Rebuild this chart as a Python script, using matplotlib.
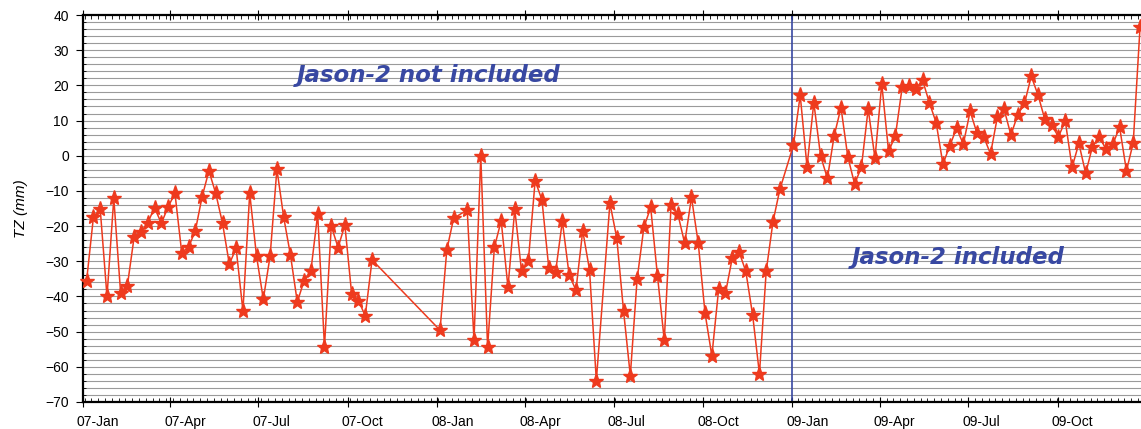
import datetime as dt
import numpy as np
import matplotlib
matplotlib.use("Agg")
import matplotlib.pyplot as plt
import matplotlib.dates as mdates
import matplotlib.transforms as mtransforms
from matplotlib.ticker import MultipleLocator

plt.rcParams["font.family"] = ["Liberation Sans", "DejaVu Sans"]

# weekly solutions: week number since first epoch, TZ value (mm)
week = [0, 1, 2, 3, 4, 5, 6, 7, 8, 9, 10, 11, 12, 13, 14, 15, 16, 17, 18, 19,
        20, 21, 22, 23, 24, 25, 26, 27, 28, 29, 30, 31, 32, 33, 34, 35, 36, 37, 38, 39,
        40, 41, 42,
        52, 53, 54, 56, 57, 58, 59, 60, 61, 62, 63, 64, 65, 66, 67, 68, 69, 70, 71, 72,
        73, 74, 75, 77, 78, 79, 80, 81, 82, 83, 84, 85, 86, 87, 88, 89, 90, 91, 92, 93,
        94, 95, 96, 97, 98, 99, 100, 101, 102,
        104, 105, 106, 107, 108, 109, 110, 111, 112, 113, 114, 115, 116, 117, 118, 119,
        120, 121, 122, 123, 124, 125, 126, 127, 128, 129, 130, 131, 132, 133, 134, 135,
        136, 137, 138, 139, 140, 141, 142, 143, 144, 145, 146, 147, 148, 149, 150, 151,
        152, 153, 154, 155]
tz = [-35.5, -17.5, -15.1, -40.0, -12.1, -38.9, -36.9, -23.0, -21.6, -19.0,
      -14.8, -19.2, -14.5, -10.7, -27.6, -26.0, -21.3, -11.6, -4.3, -10.7,
      -19.2, -30.8, -26.3, -44.1, -10.7, -28.5, -40.8, -28.5, -3.8, -17.5,
      -28.3, -41.6, -35.5, -32.7, -16.6, -54.3, -20.0, -26.1, -19.7, -39.3,
      -41.2, -45.5, -29.6,
      -49.6, -26.8, -17.8, -15.4, -52.4, -0.1, -54.4, -26.0, -18.5, -37.4,
      -15.2, -32.9, -29.8, -7.1, -12.6, -31.8, -33.1, -18.6, -33.9, -38.2,
      -21.3, -32.5, -63.9, -13.5, -23.3, -44.0, -62.5, -35.1, -20.3, -14.7,
      -34.2, -52.5, -14.0, -16.6, -24.9, -11.8, -24.9, -44.8, -56.9, -37.9,
      -39.1, -29.1, -27.3, -32.9, -45.3, -62.0, -32.7, -18.7, -9.6,
      3.0, 17.2, -3.1, 15.1, -0.1, -6.4, 5.7, 13.7, -0.3, -8.0,
      -3.3, 13.3, -0.7, 20.4, 1.3, 5.6, 19.4, 19.8, 19.1, 21.5,
      15.1, 9.4, -2.4, 2.8, 7.8, 3.3, 12.6, 6.5, 5.4, 0.5,
      10.9, 13.2, 5.9, 11.6, 14.9, 22.6, 17.2, 10.3, 8.7, 5.4,
      9.9, -3.3, 3.5, -5.0, 2.6, 5.4, 1.8, 3.3, 8.1, -4.3,
      3.7, 36.5]

first_epoch = dt.date(2007, 1, 5)
jason2_start = dt.date(2009, 1, 1)
tick_dates = [dt.date(y, m, 1) for y in (2007, 2008, 2009) for m in (1, 4, 7, 10)]

dates = [first_epoch + dt.timedelta(days=7 * w) for w in week]

red = "#ee3a1e"
blue = "#3848a2"

fig = plt.figure(figsize=(11.41, 4.29), dpi=100)
ax = fig.add_axes([0.0725, 0.063, 0.9275, 0.902])

ax.plot(dates, tz, color=red, lw=1.1, marker="*", markersize=11,
        markeredgecolor=red, markerfacecolor=red, clip_on=False, zorder=3)

ax.axvline(jason2_start, color=blue, lw=1.2, zorder=2)

ax.set_ylim(-70, 40)
ax.set_xlim(dt.date(2007, 1, 1), dt.date(2007, 1, 1) + dt.timedelta(days=1090))

ax.yaxis.set_major_locator(MultipleLocator(10))
ax.yaxis.set_minor_locator(MultipleLocator(2))
for yv in np.arange(-68, 40, 2):
    ax.axhline(yv, color="#9a9a9a", lw=0.8, zorder=1)

ax.set_xticks(tick_dates)
ax.xaxis.set_major_formatter(mdates.DateFormatter("%y-%b"))
ax.xaxis.set_minor_locator(mdates.DayLocator(interval=7))

ax.tick_params(axis="x", which="major", direction="inout", length=7, top=True,
               labelsize=10, pad=6)
ax.tick_params(axis="x", which="minor", direction="in", length=3, top=True)
ax.tick_params(axis="y", which="major", direction="out", length=5, labelsize=10, pad=5)
ax.tick_params(axis="y", which="minor", direction="in", length=2)

offset = mtransforms.ScaledTranslation(-6 / 100, 0, fig.dpi_scale_trans)
for lab in ax.get_xticklabels():
    lab.set_horizontalalignment("left")
    lab.set_transform(lab.get_transform() + offset)

for s in ("left", "bottom", "top"):
    ax.spines[s].set_linewidth(1.6)
ax.spines["right"].set_visible(False)

ax.set_ylabel("TZ (mm)", fontstyle="italic", fontsize=11, labelpad=12)

label_font = dict(color=blue, fontsize=16.5, fontweight="bold", fontstyle="italic",
                  family=["DejaVu Sans"], ha="center", va="center")
ax.text(dt.date(2007, 12, 23), 22.8, "Jason-2 not included", **label_font)
ax.text(dt.date(2009, 6, 21), -28.8, "Jason-2 included", **label_font)

fig.savefig("out.png", dpi=100)
